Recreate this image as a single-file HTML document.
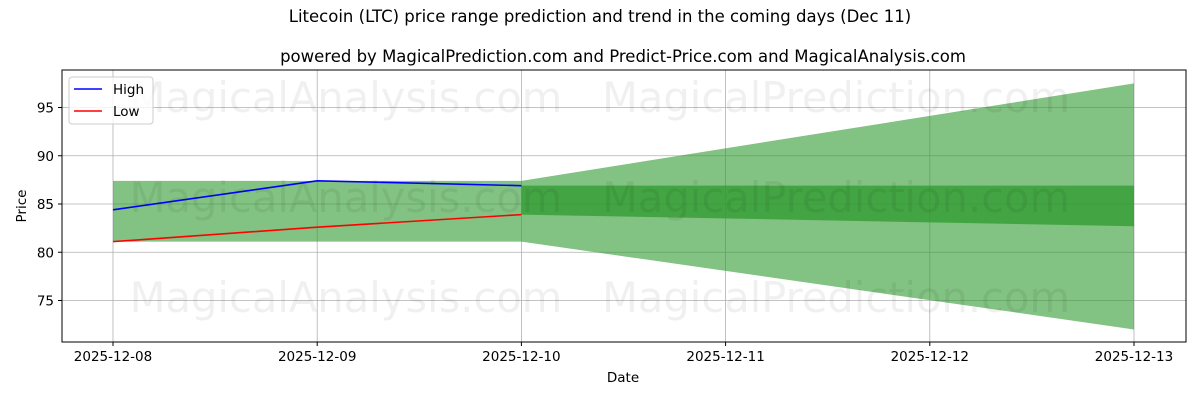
<!DOCTYPE html>
<html><head><meta charset="utf-8">
<style>
body{margin:0;background:#fff;font-family:"Liberation Sans","DejaVu Sans",sans-serif;}
svg text{font-family:"DejaVu Sans","Liberation Sans",sans-serif;}
</style></head>
<body>
<svg id="chart" width="1200" height="400" xmlns="http://www.w3.org/2000/svg">
<text x="600" y="22" text-anchor="middle" font-size="16.5">Litecoin (LTC) price range prediction and trend in the coming days (Dec 11)</text>
<text x="623" y="62" text-anchor="middle" font-size="16.5">powered by MagicalPrediction.com and Predict-Price.com and MagicalAnalysis.com</text>
<g id="plot"></g>
</svg>
<script>
const dates=["2025-12-08","2025-12-09","2025-12-10","2025-12-11","2025-12-12","2025-12-13"];
const highVals=[84.4,87.4,86.9];
const lowVals=[81.1,82.6,83.9];
const histBand=[81.1,87.4];
const coneUpper=[87.4,97.5];
const coneLower=[81.1,72.0];
const innerUpper=[86.9,86.9];
const innerLower=[83.9,82.7];
const yTicks=[75,80,85,90,95];

const L=62,R=1186,T=70,B=342;
const x=i=>113+i*204.2;
const y=v=>204-(v-85)*9.65;
const ns="http://www.w3.org/2000/svg";
const g=document.getElementById('plot');
function mk(t,a){const e=document.createElementNS(ns,t);for(const k in a)e.setAttribute(k,a[k]);g.appendChild(e);return e;}

dates.forEach((d,i)=>{
 const l=mk('line',{x1:x(i),x2:x(i),y1:T,y2:B,stroke:'#b0b0b0','stroke-width':0.8});
 
 
});
yTicks.forEach(v=>{
 const l=mk('line',{x1:L,x2:R,y1:y(v),y2:y(v),stroke:'#b0b0b0','stroke-width':0.8});
 
 
});
const hb=mk('polygon',{points:`${x(0)},${y(histBand[1])} ${x(2)},${y(histBand[1])} ${x(2)},${y(histBand[0])} ${x(0)},${y(histBand[0])}`,fill:'#2e9a2e','fill-opacity':0.6});


const cb=mk('polygon',{points:`${x(2)},${y(coneUpper[0])} ${x(5)},${y(coneUpper[1])} ${x(5)},${y(coneLower[1])} ${x(2)},${y(coneLower[0])}`,fill:'#2e9a2e','fill-opacity':0.6});


const ib=mk('polygon',{points:`${x(2)},${y(innerUpper[0])} ${x(5)},${y(innerUpper[1])} ${x(5)},${y(innerLower[1])} ${x(2)},${y(innerLower[0])}`,fill:'#2e9a2e','fill-opacity':0.75});


const hl=mk('polyline',{points:highVals.map((v,i)=>x(i)+','+y(v)).join(' '),fill:'none',stroke:'#0000ff','stroke-width':1.6});


const ll=mk('polyline',{points:lowVals.map((v,i)=>x(i)+','+y(v)).join(' '),fill:'none',stroke:'#ff0000','stroke-width':1.6});


[[346,98,'MagicalAnalysis.com'],[836,98,'MagicalPrediction.com'],[346,198,'MagicalAnalysis.com'],[836,198,'MagicalPrediction.com'],[346,298,'MagicalAnalysis.com'],[836,298,'MagicalPrediction.com']].forEach(w=>{
 const t=mk('text',{x:w[0],y:w[1]+14,'text-anchor':'middle','font-size':41.6,fill:'#000','fill-opacity':0.06});
 t.textContent=w[2];
 
 
});
const fr=mk('rect',{x:L,y:T,width:R-L,height:B-T,fill:'none',stroke:'#000','stroke-width':1});


dates.forEach((d,i)=>{
 mk('line',{x1:x(i),x2:x(i),y1:B,y2:B+4,stroke:'#000'});
 const t=mk('text',{x:x(i),y:B+19,'text-anchor':'middle','font-size':13.5});
 t.textContent=d;
 
 
});
yTicks.forEach(v=>{
 mk('line',{x1:L-4,x2:L,y1:y(v),y2:y(v),stroke:'#000'});
 const t=mk('text',{x:L-8,y:y(v)+5,'text-anchor':'end','font-size':13.5});
 t.textContent=v;
 
 
});
const xt=mk('text',{x:623,y:382,'text-anchor':'middle','font-size':13.5});xt.textContent='Date';


const yt=mk('text',{x:26,y:206,'text-anchor':'middle','font-size':13.5,transform:'rotate(-90 26 206)'});yt.textContent='Price';


const lg=mk('rect',{x:69,y:77,width:84,height:47,fill:'#fff','fill-opacity':0.8,stroke:'#ccc',rx:3});


[['High','#0000ff',89],['Low','#ff0000',111]].forEach(e=>{
 mk('line',{x1:74,x2:102,y1:e[2],y2:e[2],stroke:e[1],'stroke-width':1.6});
 const t=mk('text',{x:113,y:e[2]+5,'font-size':13.5});t.textContent=e[0];
 
 
});
</script>
</body></html>
